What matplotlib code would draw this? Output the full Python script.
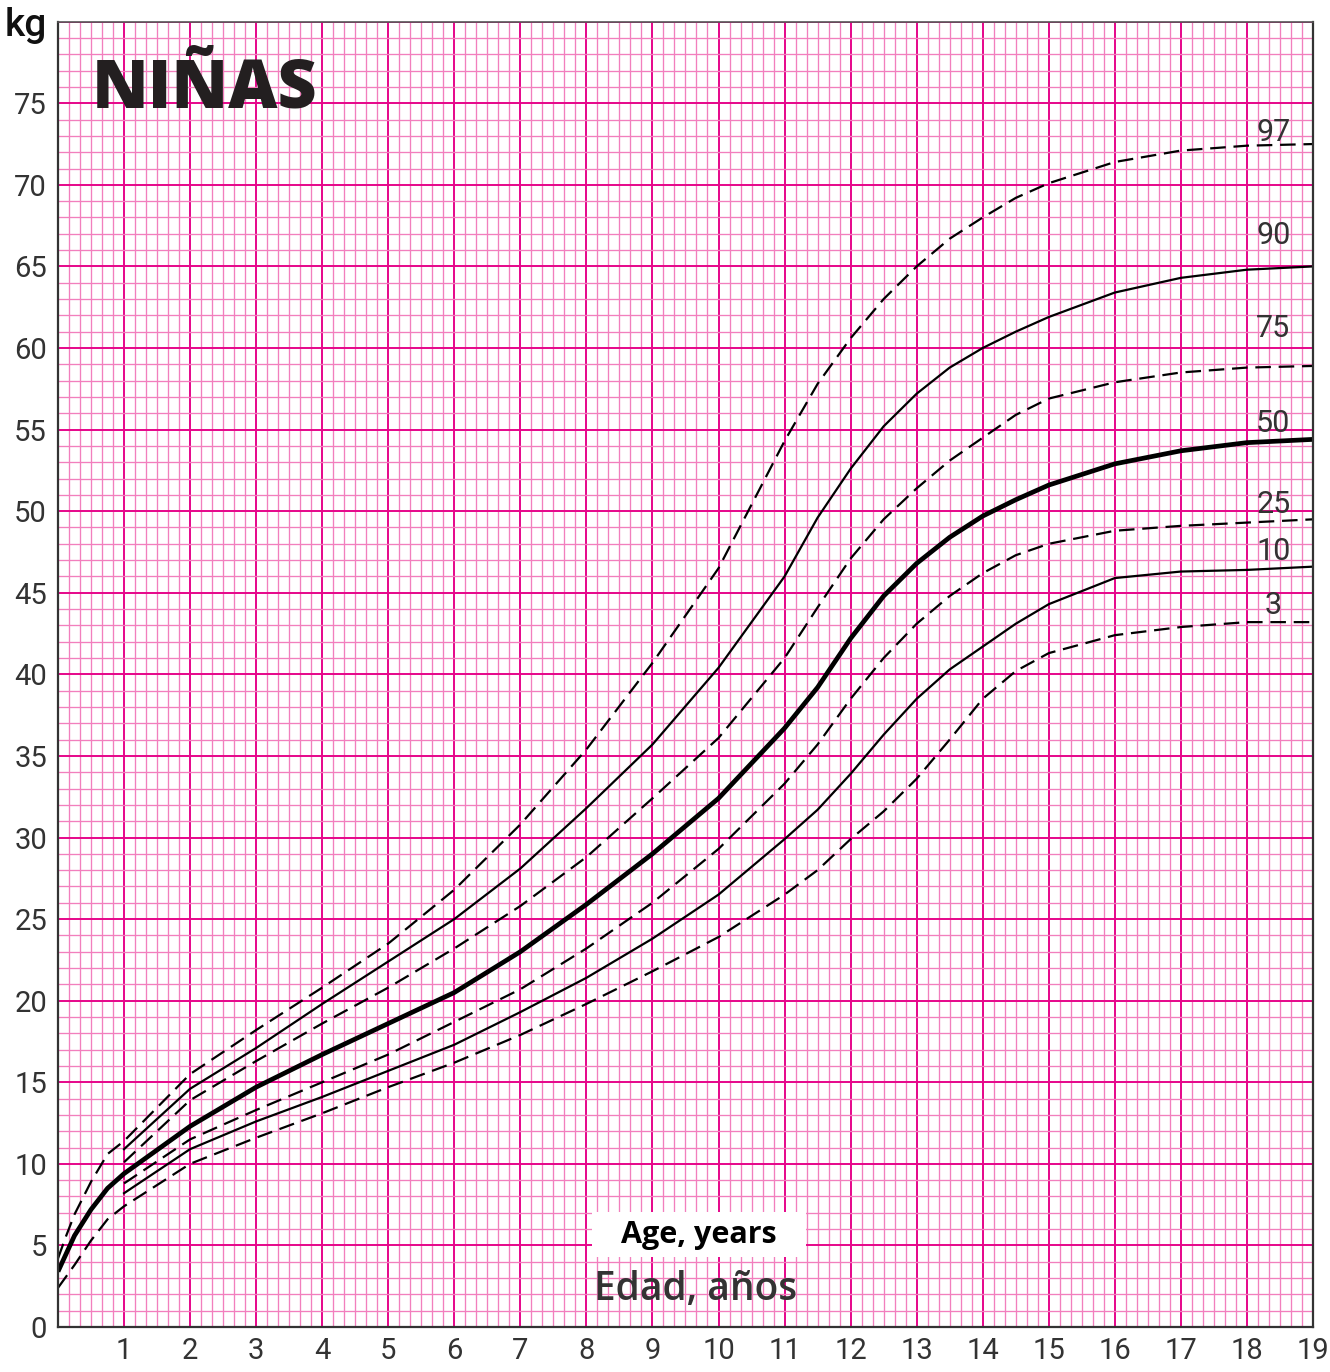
import matplotlib.pyplot as plt
from matplotlib.patches import Rectangle
from matplotlib.ticker import MultipleLocator

# edades (años)
ages_infant = [0, 0.125, 0.25, 0.5, 0.75]
ages = [1, 2, 3, 4, 5, 6, 7, 8, 9, 10, 11, 11.5, 12, 12.5, 13, 13.5, 14, 14.5,
        15, 16, 17, 18, 19]

# percentiles de peso (kg)
p97_infant = [4.2, 5.6, 6.9, 8.9, 10.6]
p50_infant = [3.4, 4.5, 5.6, 7.2, 8.5]
p3_infant = [2.4, 3.1, 3.8, 5.3, 6.6]

p97 = [11.4, 15.5, 18.2, 20.8, 23.5, 26.8, 30.8, 35.4, 40.7, 46.5, 54.3, 57.8,
       60.6, 63.0, 65.0, 66.7, 68.0, 69.2, 70.1, 71.4, 72.1, 72.4, 72.5]
p90 = [10.9, 14.6, 17.1, 19.8, 22.4, 25.0, 28.1, 31.8, 35.7, 40.4, 46.0, 49.6,
       52.6, 55.2, 57.2, 58.8, 60.0, 61.0, 61.9, 63.4, 64.3, 64.8, 65.0]
p75 = [10.1, 13.9, 16.3, 18.6, 20.8, 23.2, 25.8, 28.8, 32.4, 36.1, 41.0, 44.1,
       47.1, 49.5, 51.4, 53.1, 54.5, 55.9, 56.9, 57.9, 58.5, 58.8, 58.9]
p50 = [9.4, 12.3, 14.7, 16.7, 18.6, 20.5, 23.0, 25.9, 29.0, 32.4, 36.7, 39.2,
       42.2, 44.8, 46.8, 48.4, 49.7, 50.7, 51.6, 52.9, 53.7, 54.2, 54.4]
p25 = [8.8, 11.5, 13.3, 15.0, 16.7, 18.7, 20.7, 23.2, 26.0, 29.3, 33.3, 35.7,
       38.5, 41.0, 43.1, 44.8, 46.2, 47.3, 48.0, 48.8, 49.1, 49.3, 49.5]
p10 = [8.2, 10.9, 12.6, 14.1, 15.7, 17.3, 19.3, 21.4, 23.8, 26.5, 29.9, 31.7,
       33.9, 36.3, 38.5, 40.3, 41.7, 43.1, 44.3, 45.9, 46.3, 46.4, 46.6]
p3 = [7.4, 10.0, 11.6, 13.1, 14.7, 16.2, 17.9, 19.8, 21.8, 23.9, 26.5, 28.0,
      29.9, 31.6, 33.6, 36.0, 38.5, 40.2, 41.3, 42.4, 42.9, 43.2, 43.2]

x_labels = [str(i) for i in range(1, 20)]
y_labels = [str(v) for v in range(0, 80, 5)] + ['kg']

MAJOR = '#e6068a'
MINOR = '#f27fbd'
dash = (0, (7, 3.5))

fig = plt.figure(figsize=(13.3, 13.72), dpi=100)
ax = fig.add_axes([0.0436, 0.0328, 0.9436, 0.9514])

ax.set_xlim(0, 19)
ax.set_ylim(0, 80)

# cuadricula milimetrada
ax.xaxis.set_major_locator(MultipleLocator(1))
ax.xaxis.set_minor_locator(MultipleLocator(1 / 6))
ax.yaxis.set_major_locator(MultipleLocator(5))
ax.yaxis.set_minor_locator(MultipleLocator(1))
ax.grid(which='minor', color=MINOR, lw=0.95)
ax.grid(which='major', color=MAJOR, lw=1.4)
ax.set_axisbelow(True)

ax.set_xticks(range(0, 20))
ax.set_xticklabels([''] + x_labels)
ax.set_yticks(range(0, 81, 5))
ax.set_yticklabels(y_labels)
ax.tick_params(which='both', length=0, labelsize=21, labelcolor='#333333')
ax.tick_params(axis='x', pad=7)
ax.tick_params(axis='y', pad=8)
for lab in ax.get_xticklabels() + ax.get_yticklabels():
    lab.set_fontfamily('Roboto')
kg = ax.get_yticklabels()[-1]
kg.set_fontweight('medium')
kg.set_color('#111111')
kg.set_fontsize(28)

for side in ['left', 'bottom', 'right']:
    ax.spines[side].set_color('#333333')
    ax.spines[side].set_linewidth(1.6)
ax.spines['top'].set_color('#555555')
ax.spines['top'].set_linewidth(1.2)

# curvas
ax.plot(ages_infant + ages, p97_infant + p97, color='black', lw=1.6, ls=dash)
ax.plot(ages, p90, color='black', lw=1.6)
ax.plot(ages, p75, color='black', lw=1.6, ls=dash)
ax.plot(ages_infant + ages, p50_infant + p50, color='black', lw=3.4,
        solid_capstyle='butt')
ax.plot(ages, p25, color='black', lw=1.6, ls=dash)
ax.plot(ages, p10, color='black', lw=1.6)
ax.plot(ages_infant + ages, p3_infant + p3, color='black', lw=1.6, ls=dash)

# etiquetas de percentil
names = ['97', '90', '75', '50', '25', '10', '3']
ends = [p97[-1], p90[-1], p75[-1], p50[-1], p25[-1], p10[-1], p3[-1]]
offs = [0.7, 1.9, 2.3, 1.0, 0.9, 0.9, 1.0]
for n, e, o in zip(names, ends, offs):
    ax.text(18.4, e + o, n, fontsize=22, color='#333333', family='Roboto',
            ha='center', va='center')

fig.text(0.069, 0.9215, 'NIÑAS', fontsize=49, fontweight='heavy',
         family='Open Sans', color='#231f20', ha='left', va='baseline')

# recuadro blanco del rotulo en ingles
ax.add_patch(Rectangle((0.4255, 0.0536), 0.1705, 0.0345,
                       transform=ax.transAxes, fc='white', ec='none',
                       zorder=3))
ax.text(0.5105, 0.0708, 'Age, years', transform=ax.transAxes, fontsize=22,
        fontweight='bold', family='Open Sans', color='black',
        ha='center', va='center', zorder=4)
ax.text(0.508, 0.0285, 'Edad, años', transform=ax.transAxes, fontsize=28,
        fontweight='semibold', family='Open Sans', color='#333333',
        ha='center', va='center')

plt.savefig('out.png', dpi=100)
